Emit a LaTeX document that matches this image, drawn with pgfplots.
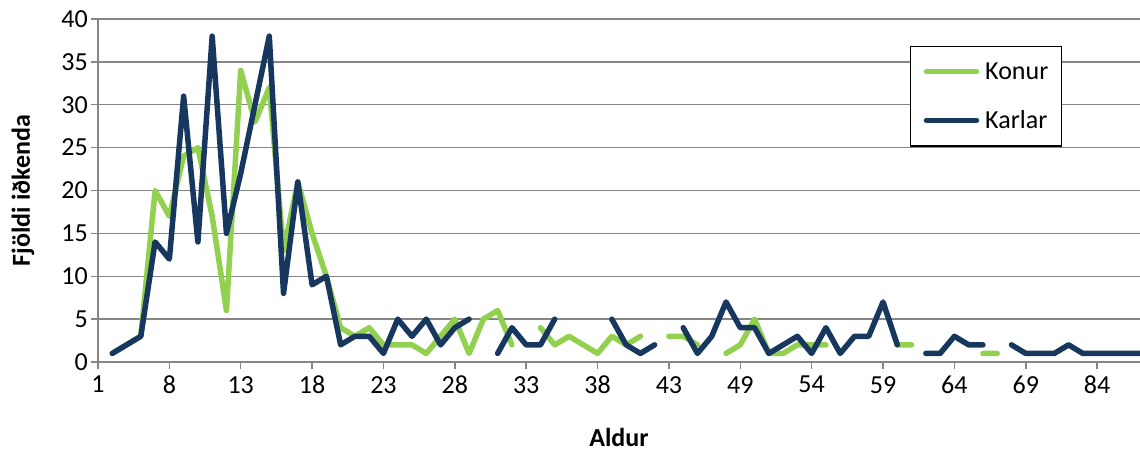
\documentclass[border=0pt]{standalone}
\usepackage{pgfplots}
\pgfplotsset{compat=1.18}
\usepackage{pgfplotstable}
\usepackage{fontspec}
\setmainfont{Carlito}

\definecolor{konur}{HTML}{92D050}
\definecolor{karlar}{HTML}{17375E}
\definecolor{gridgray}{HTML}{868686}

% i = category position on the axis, ages given as tick labels
\pgfplotstableread{
i konur karlar
0 nan nan
1 1 1
2 2 2
3 3 3
4 20 14
5 17 12
6 24 31
7 25 14
8 17 38
9 6 15
10 34 22
11 28 30
12 32 38
13 13 8
14 21 21
15 15 9
16 10 10
17 4 2
18 3 3
19 4 3
20 2 1
21 2 5
22 2 3
23 1 5
24 3 2
25 5 4
26 1 5
27 5 nan
28 6 1
29 2 4
30 nan 2
31 4 2
32 2 5
33 3 nan
34 2 nan
35 1 nan
36 3 5
37 2 2
38 3 1
39 nan 2
40 3 nan
41 3 4
42 2 1
43 nan 3
44 1 7
45 2 4
46 5 4
47 1 1
48 1 2
49 2 3
50 2 1
51 2 4
52 nan 1
53 nan 3
54 nan 3
55 nan 7
56 2 2
57 2 nan
58 nan 1
59 nan 1
60 nan 3
61 nan 2
62 1 2
63 1 nan
64 nan 2
65 nan 1
66 nan 1
67 nan 1
68 nan 2
69 nan 1
70 nan 1
71 nan 1
72 nan 1
73 nan 1
}\aldur

\begin{document}
\begin{tikzpicture}
\useasboundingbox (-98pt,-91pt) rectangle (1042pt,362pt);
\begin{axis}[
    at={(0pt,0pt)}, anchor=south west,
    scale only axis, width=1042pt, height=343pt,
    xmin=0, xmax=73, ymin=0, ymax=40,
    axis x line*=bottom, axis y line*=left,
    axis line style={gridgray, line width=1.5pt, -},
    xtick={0,5,...,70},
    xticklabels={1,8,13,18,23,28,33,38,43,49,54,59,64,69,84},
    ytick={0,5,...,40},
    ymajorgrids,
    major grid style={gridgray, line width=1.5pt},
    tick align=outside, major tick length=7pt,
    tick style={gridgray, line width=1.5pt},
    /pgf/number format/assume math mode=true,
    tick label style={font=\fontsize{26}{31}\selectfont, black, inner sep=0pt},
    yticklabel style={anchor=east, xshift=-3pt},
    xticklabel style={anchor=north, yshift=-7pt},
    label style={font=\fontsize{26}{31}\selectfont\bfseries},
    xlabel={Aldur},
    ylabel={Fjöldi iðkenda},
    xlabel style={at={(axis description cs:0.5,-0.2449)}, anchor=base},
    ylabel style={at={(axis description cs:-0.0653,0.5)}, anchor=base, rotate=0},
    unbounded coords=jump,
    every axis plot/.append style={line width=5.5pt, line join=round, line cap=round},
    legend cell align=left,
    legend image code/.code={\draw[#1, line width=5.5pt, line cap=round] (0pt,0pt) -- (50pt,0pt);},
    legend style={at={(0.7793,0.9222)}, anchor=north west, draw=black,
        line width=1.5pt, fill=white, inner xsep=13pt, inner ysep=16pt,
        row sep=30pt, column sep=6pt, font=\fontsize{26}{31}\selectfont,
        nodes={inner sep=0pt}},
]
\addplot[konur] table[x=i, y=konur] {\aldur};
\addlegendentry{Konur}
\addplot[karlar] table[x=i, y=karlar] {\aldur};
\addlegendentry{Karlar}
\end{axis}
\end{tikzpicture}
\end{document}
